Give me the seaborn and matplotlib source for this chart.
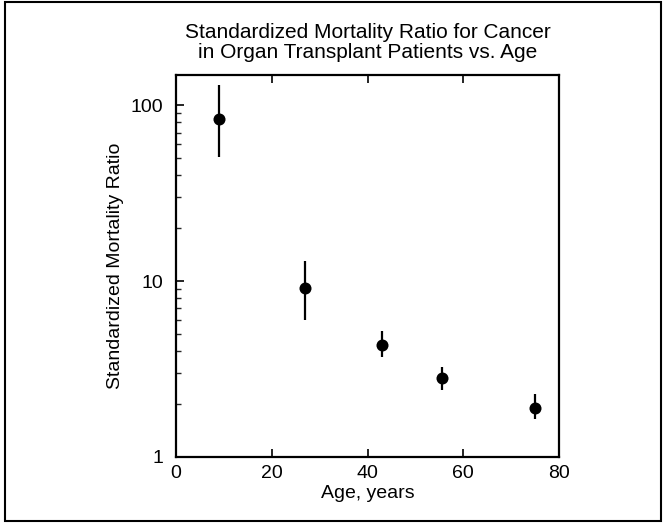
import numpy as np
import pandas as pd
import matplotlib
matplotlib.use('Agg')
import matplotlib.pyplot as plt
import matplotlib.ticker as mticker
from matplotlib.patches import Rectangle
import seaborn as sns

# values
age = [9, 27, 43, 55.5, 75]
smr = [84, 9.1, 4.35, 2.83, 1.91]
smr_low = [51, 6.0, 3.71, 2.40, 1.64]
smr_high = [131, 13.1, 5.19, 3.26, 2.27]

df = pd.DataFrame({'age': age, 'smr': smr, 'low': smr_low, 'high': smr_high})

sns.set_style('ticks')
plt.rcParams['font.family'] = ['Liberation Sans', 'DejaVu Sans']

fig = plt.figure(figsize=(6.65, 5.23), dpi=100)
ax = fig.add_axes([0.2647, 0.1262, 0.5759, 0.7304])

ax.vlines(df['age'], df['low'], df['high'], color='black', linewidth=1.6)
sns.scatterplot(data=df, x='age', y='smr', ax=ax, color='black', s=75,
                edgecolor='black', linewidth=0, zorder=3)

ax.set_yscale('log')
ax.set_ylim(1, 149)
ax.set_xlim(0, 80)
ax.set_xticks([0, 20, 40, 60, 80])
ax.yaxis.set_major_formatter(mticker.FuncFormatter(lambda v, p: f'{v:g}'))
ax.yaxis.set_minor_formatter(mticker.NullFormatter())

ax.tick_params(axis='x', which='major', direction='in', top=True, bottom=True,
               length=6, width=1.2, labelsize=14, pad=6, colors='black')
ax.tick_params(axis='y', which='major', direction='in', left=True, right=False,
               length=6, width=1.2, labelsize=14, pad=9, colors='black')
ax.tick_params(axis='y', which='minor', direction='in', left=True, right=False,
               length=3.5, width=1.0)

for s in ax.spines.values():
    s.set_visible(True)
    s.set_linewidth(1.6)
    s.set_color('black')

ax.set_xlabel('Age, years', fontsize=14, labelpad=2, color='black')
ax.set_ylabel('Standardized Mortality Ratio', fontsize=14, labelpad=5, color='black')
ax.set_title('Standardized Mortality Ratio for Cancer\nin Organ Transplant Patients vs. Age',
             fontsize=15, pad=12, linespacing=1.08, color='black')

fig.add_artist(Rectangle((5 / 665, 2 / 523), 656 / 665, 519 / 523,
                         transform=fig.transFigure, fill=False,
                         edgecolor='black', linewidth=1.5))

fig.savefig('out.png', dpi=100)
